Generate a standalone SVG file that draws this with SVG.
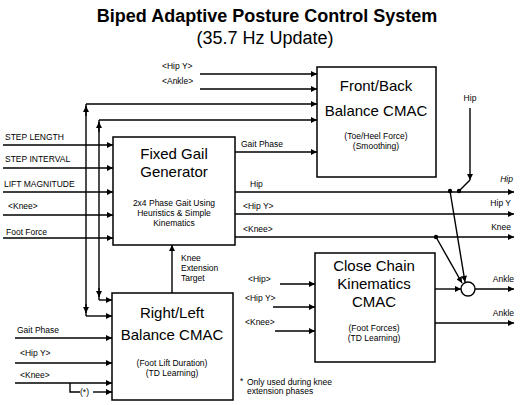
<svg xmlns="http://www.w3.org/2000/svg" width="520" height="405" viewBox="0 0 520 405">
<style>
text{font-family:"Liberation Sans",Arial,Helvetica,sans-serif;fill:#000}
.t1{font-size:18px;font-weight:bold}
.t2{font-size:18px}
.big{font-size:15px;text-anchor:middle}
.sm{font-size:8.5px;text-anchor:middle}
.lab{font-size:8.5px}
.box{fill:#fff;stroke:#000;stroke-width:1.5}
.w{fill:none;stroke:#000;stroke-width:1.4}
.wa{fill:none;stroke:#000;stroke-width:1.4;marker-end:url(#ah)}
</style>
<defs>
<marker id="ah" viewBox="0 0 10 10" refX="10" refY="5" markerWidth="7" markerHeight="6" orient="auto" markerUnits="userSpaceOnUse"><path d="M0,0 L10,5 L0,10 z" fill="#000"/></marker>
</defs>
<rect width="520" height="405" fill="#fff"/>
<g id="title">
<text class="t1" x="267" y="22" text-anchor="middle">Biped Adaptive Posture Control System</text>
<text class="t2" x="265" y="44" text-anchor="middle">(35.7 Hz Update)</text>
</g>
<g id="connectors">
<!-- inputs to Front/Back -->
<text class="lab" x="162" y="69">&lt;Hip Y&gt;</text>
<path class="wa" d="M200,74 H317"/>
<text class="lab" x="162" y="84">&lt;Ankle&gt;</text>
<path class="wa" d="M200,89 H317"/>
<path class="wa" d="M86,104 H317"/>
<path class="wa" d="M99,120 H317"/>
<text class="lab" x="241" y="147">Gait Phase</text>
<path class="wa" d="M235,152 H317"/>
<!-- feedback verticals -->
<path class="w" d="M86,104 V316"/>
<path class="wa" d="M86,316 H112"/>
<path class="w" d="M99,120 V300"/>
<path class="wa" d="M99,300 H112"/>
<path class="wa" d="M86,116 V106"/>
<path class="wa" d="M99,132 V122"/>
<path class="wa" d="M99,288 V297"/>
<path class="wa" d="M86,304 V313"/>
<!-- inputs to Fixed Gait -->
<text class="lab" x="5" y="140">STEP LENGTH</text>
<path class="wa" d="M3,145 H113"/>
<text class="lab" x="5" y="162">STEP INTERVAL</text>
<path class="wa" d="M3,168 H113"/>
<text class="lab" x="4" y="187">LIFT MAGNITUDE</text>
<path class="wa" d="M3,192 H113"/>
<text class="lab" x="8" y="209">&lt;Knee&gt;</text>
<path class="wa" d="M3,215 H113"/>
<text class="lab" x="6" y="235">Foot Force</text>
<path class="wa" d="M3,238 H113"/>
<!-- outputs of Fixed Gait -->
<text class="lab" x="250" y="187">Hip</text>
<path class="wa" d="M235,192 H514"/>
<text class="lab" x="243" y="209">&lt;Hip Y&gt;</text>
<path class="wa" d="M235,214 H514"/>
<text class="lab" x="243" y="232">&lt;Knee&gt;</text>
<path class="wa" d="M235,237 H514"/>
<text class="lab" x="513" y="182" text-anchor="end" font-style="italic">Hip</text>
<text class="lab" x="511" y="206" text-anchor="end">Hip Y</text>
<text class="lab" x="511" y="230" text-anchor="end">Knee</text>
<!-- Hip from above -->
<text class="lab" x="470" y="101" text-anchor="middle">Hip</text>
<path class="wa" d="M470,108 V180"/>
<path class="w" d="M470,180 L459,191"/>
<circle cx="459" cy="191" r="2.2"/>
<circle cx="450" cy="191" r="2.2"/>
<circle cx="436" cy="237" r="2.2"/>
<path class="wa" d="M450,191 L465,282"/>
<path class="wa" d="M436,237 L462,283"/>
<!-- knee extension target -->
<path class="wa" d="M172,293 V245"/>
<text class="lab" x="181" y="261">Knee</text>
<text class="lab" x="181" y="271">Extension</text>
<text class="lab" x="181" y="281">Target</text>
<!-- inputs to Close Chain -->
<text class="lab" x="248" y="282">&lt;Hip&gt;</text>
<path class="wa" d="M280,284 H315"/>
<text class="lab" x="245" y="301">&lt;Hip Y&gt;</text>
<path class="wa" d="M273,307 H315"/>
<text class="lab" x="245" y="325">&lt;Knee&gt;</text>
<path class="wa" d="M275,331 H315"/>
<!-- outputs of Close Chain -->
<path class="wa" d="M435,289 H461"/>
<path class="wa" d="M475,289 H514"/>
<text class="lab" x="514" y="282" text-anchor="end">Ankle</text>
<path class="wa" d="M435,323 H514"/>
<text class="lab" x="514" y="316" text-anchor="end">Ankle</text>
<!-- inputs to Right/Left -->
<text class="lab" x="17" y="333">Gait Phase</text>
<path class="wa" d="M15,338 H112"/>
<text class="lab" x="20" y="356">&lt;Hip Y&gt;</text>
<path class="wa" d="M15,363 H112"/>
<text class="lab" x="20" y="378">&lt;Knee&gt;</text>
<path class="wa" d="M15,383 H112"/>
<path class="w" d="M70,383 V392 H80"/>
<text class="lab" x="80" y="395">(*)</text>
<path class="wa" d="M93,392 H112"/>
<!-- footnote -->
<text class="lab" x="240" y="384">*</text>
<text class="lab" x="247" y="385">Only used during knee</text>
<text class="lab" x="247" y="394">extension phases</text>
</g>
<g id="front-back">
<rect class="box" x="317" y="67" width="119" height="110"/>
<text class="big" x="376" y="91">Front/Back</text>
<text class="big" x="376" y="116">Balance CMAC</text>
<text class="sm" x="376" y="139">(Toe/Heel Force)</text>
<text class="sm" x="376" y="149">(Smoothing)</text>
</g>
<g id="fixed-gait">
<rect class="box" x="113" y="137" width="122" height="108"/>
<text class="big" x="174" y="159">Fixed Gail</text>
<text class="big" x="174" y="177">Generator</text>
<text class="sm" x="174" y="206">2x4 Phase Gait Using</text>
<text class="sm" x="174" y="216">Heuristics &amp; Simple</text>
<text class="sm" x="174" y="226">Kinematics</text>
</g>
<g id="close-chain">
<rect class="box" x="315" y="253" width="120" height="109"/>
<text class="big" x="374" y="271">Close Chain</text>
<text class="big" x="374" y="289">Kinematics</text>
<text class="big" x="374" y="307">CMAC</text>
<text class="sm" x="374" y="331">(Foot Forces)</text>
<text class="sm" x="374" y="341">(TD Learning)</text>
</g>
<g id="right-left">
<rect class="box" x="112" y="293" width="121" height="107"/>
<text class="big" x="172" y="318">Right/Left</text>
<text class="big" x="172" y="340">Balance CMAC</text>
<text class="sm" x="172" y="366">(Foot Lift Duration)</text>
<text class="sm" x="172" y="376">(TD Learning)</text>
</g>
<g id="summing-junction">
<circle cx="468" cy="289" r="7" fill="#fff" stroke="#000" stroke-width="1.4"/>
</g>
</svg>
